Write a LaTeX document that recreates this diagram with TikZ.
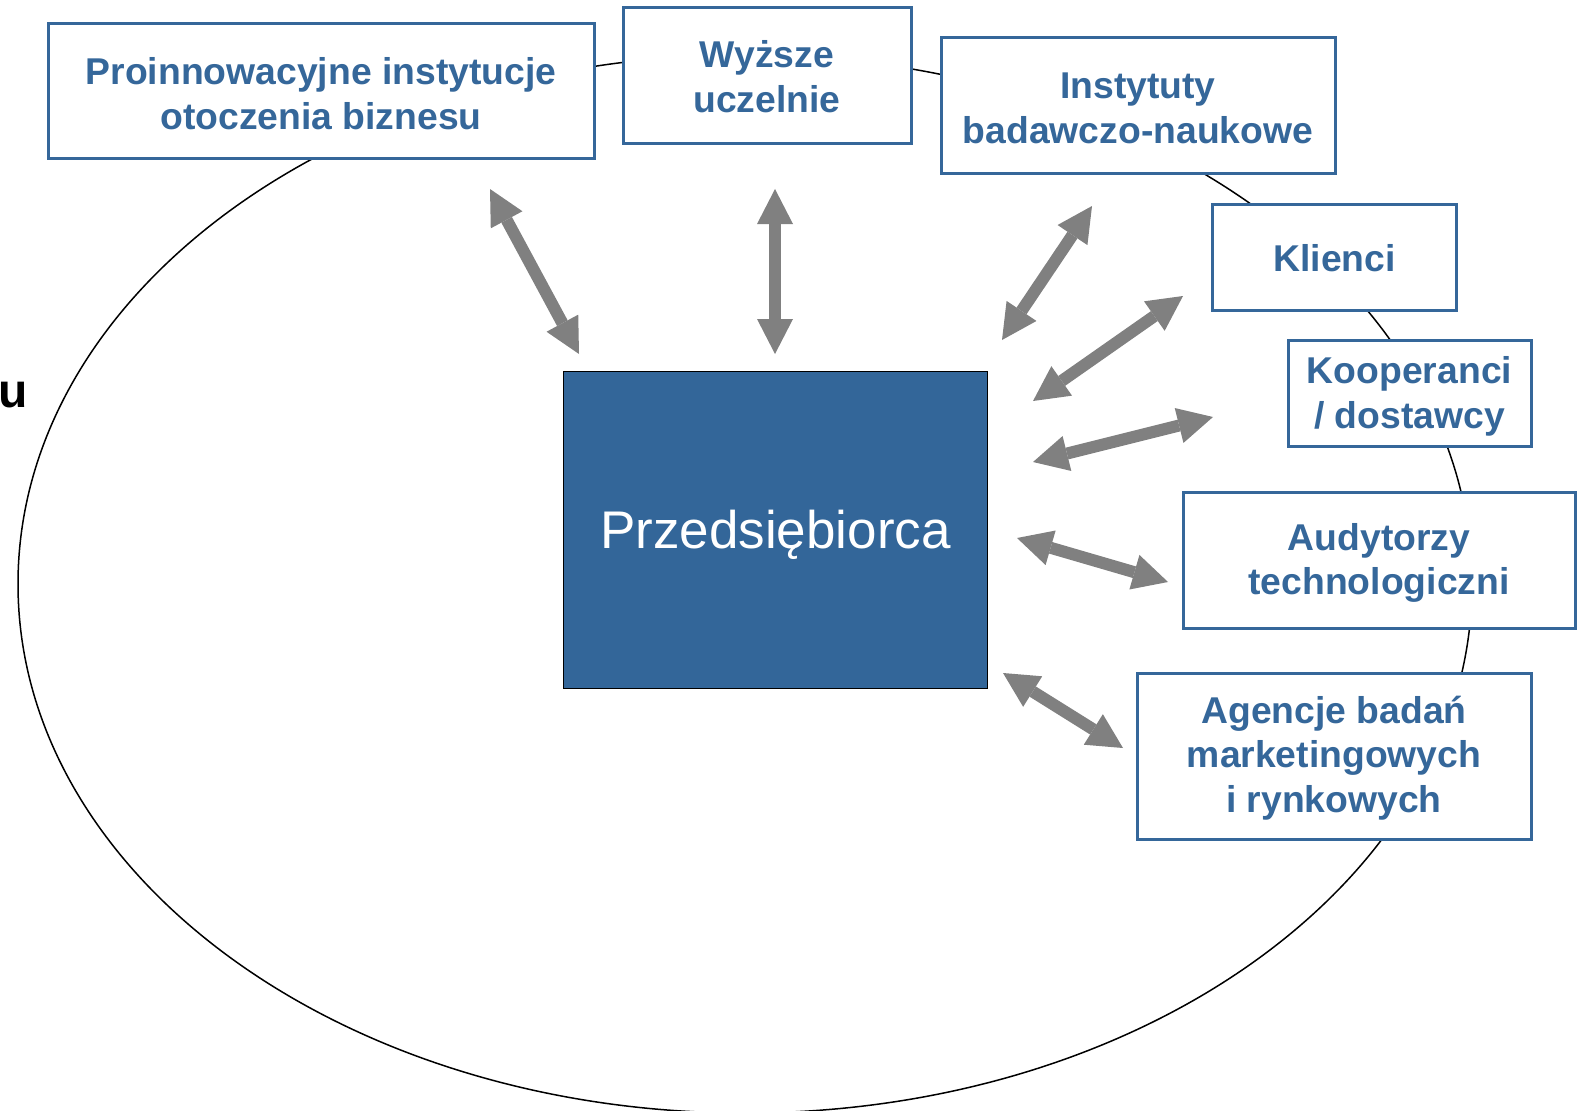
\documentclass[tikz,border=0pt]{standalone}
\usepackage{fontspec}
\setmainfont{Liberation Sans}
\usetikzlibrary{arrows.meta}
\definecolor{boxblue}{RGB}{53,103,154}
\definecolor{fillblue}{RGB}{51,102,153}
\definecolor{arrgray}{RGB}{128,128,128}
\tikzset{
  actor/.style={draw=boxblue, line width=3pt, fill=white, inner sep=0pt},
  actortext/.style={inner sep=0pt, align=center, text=boxblue,
    font=\fontsize{37.3}{44.8}\selectfont\bfseries},
  link/.style={draw=arrgray, line width=12pt,
    {Triangle[length=35pt,width=36pt,line width=0pt]}-{Triangle[length=35pt,width=36pt,line width=0pt]}},
}
\begin{document}
\begin{tikzpicture}[x=1pt,y=-1pt]
\useasboundingbox (0,0) rectangle (1578,1110);
\clip (0,0) rectangle (1578,1110);
\draw[line width=1.5pt] (745,584) ellipse [x radius=727pt, y radius=529pt];
\node[anchor=base west, inner sep=0pt, font=\fontsize{48}{52}\selectfont\bfseries] (cut) at (-2,407) {u};

\node[actor, minimum width=546pt, minimum height=135pt] (pro) at (321,91.5) {};
\node[actor, minimum width=288pt, minimum height=136pt] (wyz) at (767,76) {};
\node[actor, minimum width=394pt, minimum height=136pt] (ins) at (1138,106) {};
\node[actor, minimum width=244pt, minimum height=106pt] (kli) at (1334.5,257) {};
\node[actor, minimum width=243pt, minimum height=106pt] (koo) at (1409.5,393) {};
\node[actor, minimum width=392pt, minimum height=136pt] (aud) at (1379,560) {};
\node[actor, minimum width=394pt, minimum height=166pt] (age) at (1334,756) {};

\node[actortext] (prot) at ([yshift=-2pt]pro.center) {Proinnowacyjne instytucje\\otoczenia biznesu};
\node[actortext] (wyzt) at ([yshift=-1pt]wyz.center) {Wyższe\\uczelnie};
\node[actortext] (inst) at ([yshift=-2pt]ins.center) {Instytuty\\badawczo-naukowe};
\node[actortext] (klit) at ([yshift=-1pt]kli.center) {Klienci};
\node[actortext] (koot) at ([yshift=-3pt]koo.center) {Kooperanci\\/ dostawcy};
\node[actortext] (audt) at ([yshift=-3pt]aud.center) {Audytorzy\\technologiczni};
\node[actortext] (aget) at ([yshift=-2pt]age.center) {Agencje badań\\marketingowych\\i rynkowych};

\node[draw=black, line width=1.5pt, fill=fillblue, minimum width=424pt, minimum height=317pt] (prz) at (775.5,530) {};
\node[text=white, inner sep=0pt, font=\fontsize{53}{60}\selectfont] (przt) at ([yshift=-5pt]prz.center) {Przedsiębiorca};

\coordinate (a1s) at (490,189); \coordinate (a1e) at (579,354);
\coordinate (a2s) at (775,189); \coordinate (a2e) at (775,354);
\coordinate (a3s) at (1092,206); \coordinate (a3e) at (1002,340);
\coordinate (a4s) at (1183,296); \coordinate (a4e) at (1033,401);
\coordinate (a5s) at (1213,417); \coordinate (a5e) at (1033,462);
\coordinate (a6s) at (1017,538); \coordinate (a6e) at (1168,582);
\coordinate (a7s) at (1003,673); \coordinate (a7e) at (1123,748);
\foreach \i in {1,...,7} { \draw[link] (a\i s) -- (a\i e); }
\end{tikzpicture}
\end{document}
